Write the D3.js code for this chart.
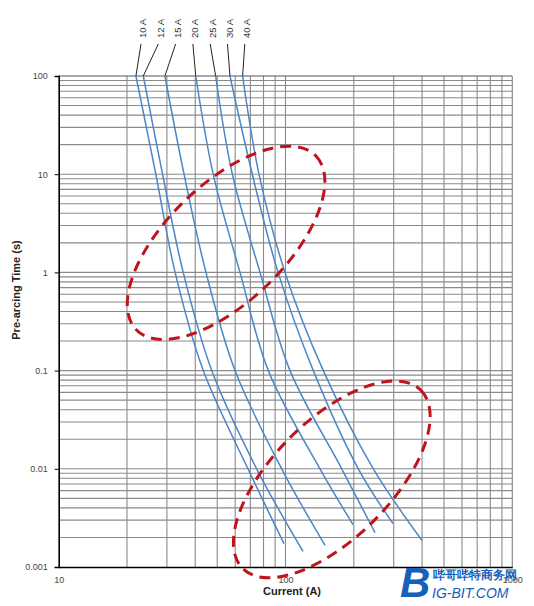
<!DOCTYPE html>
<html>
<head>
<meta charset="utf-8">
<script src="https://cdn.jsdelivr.net/npm/d3@7"></script>
<style>
  body { margin: 0; background: #fff; }
  text { font-family: "Liberation Sans", Arial, sans-serif; }
</style>
</head>
<body>
<svg id="chart" width="534" height="606"></svg>
<script>
// fuse ratings and their time-current readings (amps at each time level)
const ratings = ["10 A", "12 A", "15 A", "20 A", "25 A", "30 A", "40 A"]
const timeLevels = [100, 10, 1, 0.1, 0.01]
const amps10 = [21.9, 26.8, 32.6, 43.4, 68.3]
const amps12 = [23.6, 28.7, 35.4, 47.3, 74.6]
const amps15 = [29.4, 35.7, 44.6, 59.9, 96.2]
const amps20 = [40.2, 48.0, 63.0, 84.0, 141.9]
const amps25 = [49.2, 58.3, 77.2, 104.7, 176.9]
const amps30 = [56.9, 71.4, 92.7, 132.6, 209.4]
const amps40 = [64.7, 76.4, 99.5, 146.8, 243.9]
// where each curve stops at the bottom
const endAmps = [98.5, 119.5, 149.4, 198.5, 248.1, 297.8, 399.9]
const endTimes = [0.00173, 0.00144, 0.00166, 0.0027, 0.00224, 0.00277, 0.00186]
// red dashed highlight rings (centre in amps / seconds)
const ringAmps = [54.7, 160]
const ringTimes = [2.0, 0.0078]

const yTickLabels = ["100", "10", "1", "0.1", "0.01", "0.001"]
const yTickValues = [100, 10, 1, 0.1, 0.01, 0.001]
const xTickLabels = ["10", "100", "1000"]
const xTickValues = [10, 100, 1000]

let allAmps = [amps10, amps12, amps15, amps20, amps25, amps30, amps40]

let svg = d3.select("#chart")

let x = d3.scaleLog().domain([10, 1000]).range([58.7, 512.3])
let y = d3.scaleLog().domain([0.001, 100]).range([567, 76])

// grid
let hLines = []
for (let e = -3; e < 2; e++) {
  for (let m = 2; m <= 9; m++) hLines.push(m * Math.pow(10, e))
}
let vLines = []
for (let e = 1; e < 3; e++) {
  for (let m = 2; m <= 9; m++) vLines.push(m * Math.pow(10, e))
}
vLines.push(100)

let grid = svg.append("g")
grid.selectAll(".h").data(hLines.concat([10, 1, 0.1, 0.01])).enter()
  .append("line")
  .attr("x1", x(10)).attr("x2", x(1000))
  .attr("y1", d => y(d)).attr("y2", d => y(d))
  .attr("stroke", "#8a8a8a").attr("stroke-width", 1.1)
grid.selectAll(".v").data(vLines).enter()
  .append("line")
  .attr("y1", y(100)).attr("y2", y(0.001))
  .attr("x1", d => x(d)).attr("x2", d => x(d))
  .attr("stroke", "#8a8a8a").attr("stroke-width", 1.1)

// frame
grid.append("line").attr("x1", x(10)).attr("x2", x(1000)).attr("y1", y(100)).attr("y2", y(100))
  .attr("stroke", "#555").attr("stroke-width", 1.2)
grid.append("line").attr("x1", x(1000)).attr("x2", x(1000)).attr("y1", y(100)).attr("y2", y(0.001))
  .attr("stroke", "#8a8a8a").attr("stroke-width", 1.2)

// axes
let yAxis = d3.axisLeft(y).tickValues(yTickValues).tickSize(4)
  .tickFormat((d, i) => yTickLabels[i])
let gy = svg.append("g").attr("transform", "translate(" + x(10) + ",0)").call(yAxis)
gy.select(".domain").attr("stroke", "#000").attr("stroke-width", 1.6)
gy.selectAll(".tick line").attr("stroke", "#000")
gy.selectAll(".tick text").attr("x", -11).attr("font-size", 9).attr("fill", "#444")
  .attr("font-family", "Liberation Sans, Arial, sans-serif")

let xAxis = d3.axisBottom(x).tickValues(xTickValues).tickSize(0)
  .tickFormat((d, i) => xTickLabels[i])
let gx = svg.append("g").attr("transform", "translate(0," + y(0.001) + ")").call(xAxis)
gx.select(".domain").attr("stroke", "#000").attr("stroke-width", 1.6)
gx.selectAll(".tick text").attr("y", 10).attr("font-size", 9).attr("fill", "#444")
  .attr("font-family", "Liberation Sans, Arial, sans-serif")

// curves
let line = d3.line()
  .x(d => x(d[0]))
  .y(d => y(d[1]))
  .curve(d3.curveCatmullRom.alpha(0.5))

let series = allAmps.map(function(a, i) {
  let pts = a.map((v, j) => [v, timeLevels[j]])
  pts.push([endAmps[i], endTimes[i]])
  return pts
})

svg.append("g").selectAll("path").data(series).enter()
  .append("path")
  .attr("d", line)
  .attr("fill", "none")
  .attr("stroke", "#4a87c9")
  .attr("stroke-width", 1.5)

// rating labels with leader lines
let labels = svg.append("g")
ratings.forEach(function(r, i) {
  let lx = 143 + i * 17.3
  labels.append("line")
    .attr("x1", lx - 2).attr("y1", 44)
    .attr("x2", x(allAmps[i][0])).attr("y2", y(timeLevels[0]))
    .attr("stroke", "#222").attr("stroke-width", 1)
  labels.append("text")
    .attr("transform", "translate(" + lx + ",38) rotate(-90)")
    .attr("dy", "0.35em")
    .attr("text-anchor", "start")
    .attr("font-size", 9.5)
    .attr("fill", "#333")
    .text(r)
})

// red dashed rings
let ringSize = [[125, 59, -44], [126, 59, -45]]
svg.append("g").selectAll("ellipse").data(ringAmps).enter()
  .append("ellipse")
  .attr("transform", (d, i) => "translate(" + x(d) + "," + y(ringTimes[i]) + ") rotate(" + ringSize[i][2] + ")")
  .attr("rx", (d, i) => ringSize[i][0])
  .attr("ry", (d, i) => ringSize[i][1])
  .attr("fill", "none")
  .attr("stroke", "#c0141c")
  .attr("stroke-width", 3)
  .attr("stroke-dasharray", "11,7")

// axis titles
svg.append("text")
  .attr("transform", "translate(20,290) rotate(-90)")
  .attr("text-anchor", "middle")
  .attr("font-size", 11).attr("font-weight", "bold").attr("fill", "#222")
  .text("Pre-arcing Time (s)")
svg.append("text")
  .attr("x", 292).attr("y", 595)
  .attr("text-anchor", "middle")
  .attr("font-size", 11).attr("font-weight", "bold").attr("fill", "#222")
  .text("Current (A)")

// watermark
let wm = svg.append("g").attr("fill", "#1560b8")
wm.append("text").attr("x", 400).attr("y", 597)
  .attr("font-size", 42).attr("font-weight", "bold").attr("font-style", "italic").text("B")
wm.append("text").attr("x", 433).attr("y", 579)
  .attr("font-size", 11.5).attr("font-weight", "bold")
  .attr("font-family", "Noto Sans CJK SC, sans-serif").text("哔哥哔特商务网")
wm.append("text").attr("x", 432).attr("y", 598)
  .attr("font-size", 14).attr("font-style", "italic").text("IG-BIT.COM")
</script>
</body>
</html>
